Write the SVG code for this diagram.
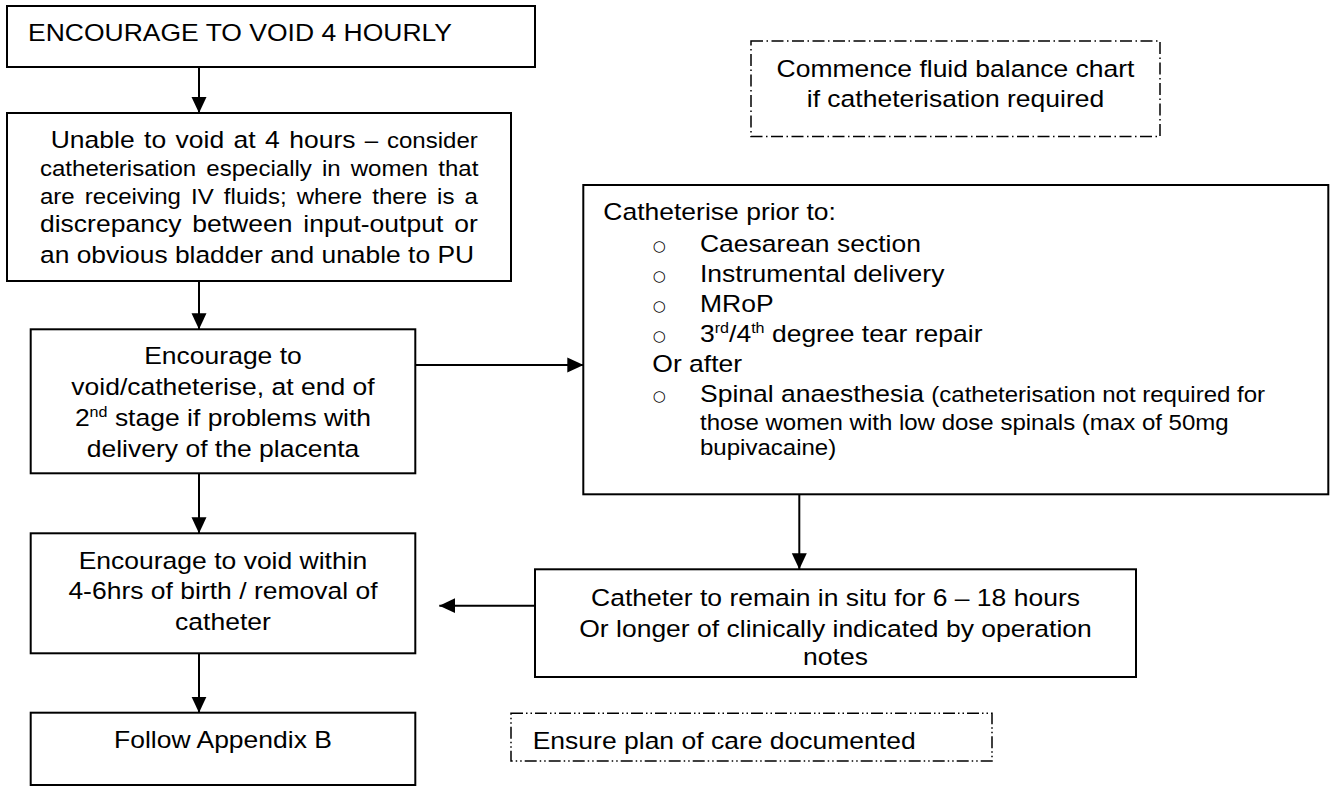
<svg xmlns="http://www.w3.org/2000/svg" width="1333" height="786" viewBox="0 0 1333 786">
<defs>
<style>
.box{fill:#fff;stroke:#000;stroke-width:2}
.dd{fill:#fff;stroke:#000;stroke-width:1.5;stroke-dasharray:12 3.5 1.5 3.5}
.ddd{fill:#fff;stroke:#000;stroke-width:1.5;stroke-dasharray:12 3 1.5 3 1.5 3}
.t{font-family:"Liberation Sans",Arial,sans-serif;font-size:24.7px;fill:#000}
.s{font-size:22.4px}
.c{text-anchor:middle}
.sup{font-size:15px}
.b{font-family:"DejaVu Sans",sans-serif;font-size:15px;fill:#000;text-anchor:middle}
.conn{fill:none;stroke:#000;stroke-width:2;marker-end:url(#ah)}
</style>
<marker id="ah" markerUnits="userSpaceOnUse" markerWidth="16" markerHeight="16" viewBox="0 0 16 15" refX="16" refY="7.5" orient="auto">
<path d="M0,0 L16,7.5 L0,15 z" fill="#000"/>
</marker>
</defs>
<rect width="1333" height="786" fill="#fff"/>

<g id="connectors">
<path class="conn" d="M199,67 V113"/>
<path class="conn" d="M199,281 V329.3"/>
<path class="conn" d="M199,473.3 V533.3"/>
<path class="conn" d="M199,653.3 V712.7"/>
<path class="conn" d="M415.3,365 H583.3"/>
<path class="conn" d="M799.3,494.3 V569.3"/>
<path class="conn" d="M535,605.7 H439.3"/>
</g>

<g id="n1">
<rect class="box" x="7" y="6" width="528" height="61"/>
<text class="t" x="28" y="41" transform="matrix(1.073 0 0 1 -2.044 0)">ENCOURAGE TO VOID 4 HOURLY</text>
</g>

<g id="n2">
<rect class="box" x="7" y="113" width="504" height="168"/>
<text class="t" x="50.7" y="148" transform="matrix(1.073 0 0 1 -3.701 0)" style="word-spacing:1.9px">Unable to void at 4 hours <tspan class="s">– consider</tspan></text>
<text class="t s" x="40" y="176.5" transform="matrix(1.073 0 0 1 -2.92 0)" style="word-spacing:3.2px">catheterisation especially in women that</text>
<text class="t s" x="40" y="204" transform="matrix(1.073 0 0 1 -2.92 0)" style="word-spacing:3.2px">are receiving IV fluids; where there is a</text>
<text class="t" x="40" y="232" transform="matrix(1.073 0 0 1 -2.92 0)" style="word-spacing:3.3px">discrepancy between input-output or</text>
<text class="t" x="40" y="263" transform="matrix(1.073 0 0 1 -2.92 0)" textLength="404.5" lengthAdjust="spacingAndGlyphs">an obvious bladder and unable to PU</text>
</g>

<g id="n3">
<rect class="box" x="30.7" y="329.3" width="384.6" height="144"/>
<text class="t c" x="223" y="364" transform="matrix(1.073 0 0 1 -16.279 0)">Encourage to</text>
<text class="t c" x="223" y="395" transform="matrix(1.073 0 0 1 -16.279 0)">void/catheterise, at end of</text>
<text class="t c" x="223" y="426" transform="matrix(1.073 0 0 1 -16.279 0)">2<tspan class="sup" dy="-9">nd</tspan><tspan dy="9"> stage if problems with</tspan></text>
<text class="t c" x="223" y="456.7" transform="matrix(1.073 0 0 1 -16.279 0)">delivery of the placenta</text>
</g>

<g id="n4">
<rect class="box" x="30.7" y="533.3" width="384.6" height="120"/>
<text class="t c" x="223" y="569.3" transform="matrix(1.073 0 0 1 -16.279 0)">Encourage to void within</text>
<text class="t c" x="223" y="599.3" transform="matrix(1.073 0 0 1 -16.279 0)">4-6hrs of birth / removal of</text>
<text class="t c" x="223" y="630" transform="matrix(1.073 0 0 1 -16.279 0)">catheter</text>
</g>

<g id="n5">
<rect class="box" x="30.7" y="712.7" width="384.6" height="72.3"/>
<text class="t c" x="223" y="748.3" transform="matrix(1.073 0 0 1 -16.279 0)">Follow Appendix B</text>
</g>

<g id="n6">
<rect class="box" x="583.3" y="185" width="745" height="309.3"/>
<text class="t" x="603.3" y="220" transform="matrix(1.073 0 0 1 -44.041 0)">Catheterise prior to:</text>
<text class="b" x="659.3" y="251">○</text>
<text class="t" x="700" y="251.7" transform="matrix(1.073 0 0 1 -51.1 0)">Caesarean section</text>
<text class="b" x="659.3" y="281">○</text>
<text class="t" x="700" y="281.7" transform="matrix(1.073 0 0 1 -51.1 0)">Instrumental delivery</text>
<text class="b" x="659.3" y="311">○</text>
<text class="t" x="700" y="311.7" transform="matrix(1.073 0 0 1 -51.1 0)">MRoP</text>
<text class="b" x="659.3" y="341">○</text>
<text class="t" x="700" y="341.7" transform="matrix(1.073 0 0 1 -51.1 0)">3<tspan class="sup" dy="-9">rd</tspan><tspan dy="9">/4</tspan><tspan class="sup" dy="-9">th</tspan><tspan dy="9"> degree tear repair</tspan></text>
<text class="t" x="652.3" y="371.7" transform="matrix(1.073 0 0 1 -47.618 0)">Or after</text>
<text class="b" x="659.3" y="401">○</text>
<text class="t" x="700" y="401.7" transform="matrix(1.073 0 0 1 -51.1 0)">Spinal anaesthesia <tspan class="s">(catheterisation not required for</tspan></text>
<text class="t s" x="700" y="430" transform="matrix(1.073 0 0 1 -51.1 0)">those women with low dose spinals (max of 50mg</text>
<text class="t s" x="700" y="455" transform="matrix(1.073 0 0 1 -51.1 0)">bupivacaine)</text>
</g>

<g id="n7">
<rect class="box" x="535" y="569.3" width="601" height="107.7"/>
<text class="t c" x="835.5" y="606" transform="matrix(1.073 0 0 1 -60.992 0)">Catheter to remain in situ for 6 – 18 hours</text>
<text class="t c" x="835.5" y="636.7" transform="matrix(1.073 0 0 1 -60.992 0)">Or longer of clinically indicated by operation</text>
<text class="t c" x="835.5" y="665" transform="matrix(1.073 0 0 1 -60.992 0)">notes</text>
</g>

<g id="n8">
<rect class="dd" x="751" y="41" width="409" height="95.5"/>
<text class="t c" x="955.5" y="77" transform="matrix(1.073 0 0 1 -69.752 0)">Commence fluid balance chart</text>
<text class="t c" x="955.5" y="107" transform="matrix(1.073 0 0 1 -69.752 0)">if catheterisation required</text>
</g>

<g id="n9">
<rect class="ddd" x="511" y="713.3" width="481" height="47.7"/>
<text class="t" x="532.7" y="749.3" transform="matrix(1.073 0 0 1 -38.887 0)">Ensure plan of care documented</text>
</g>
</svg>
